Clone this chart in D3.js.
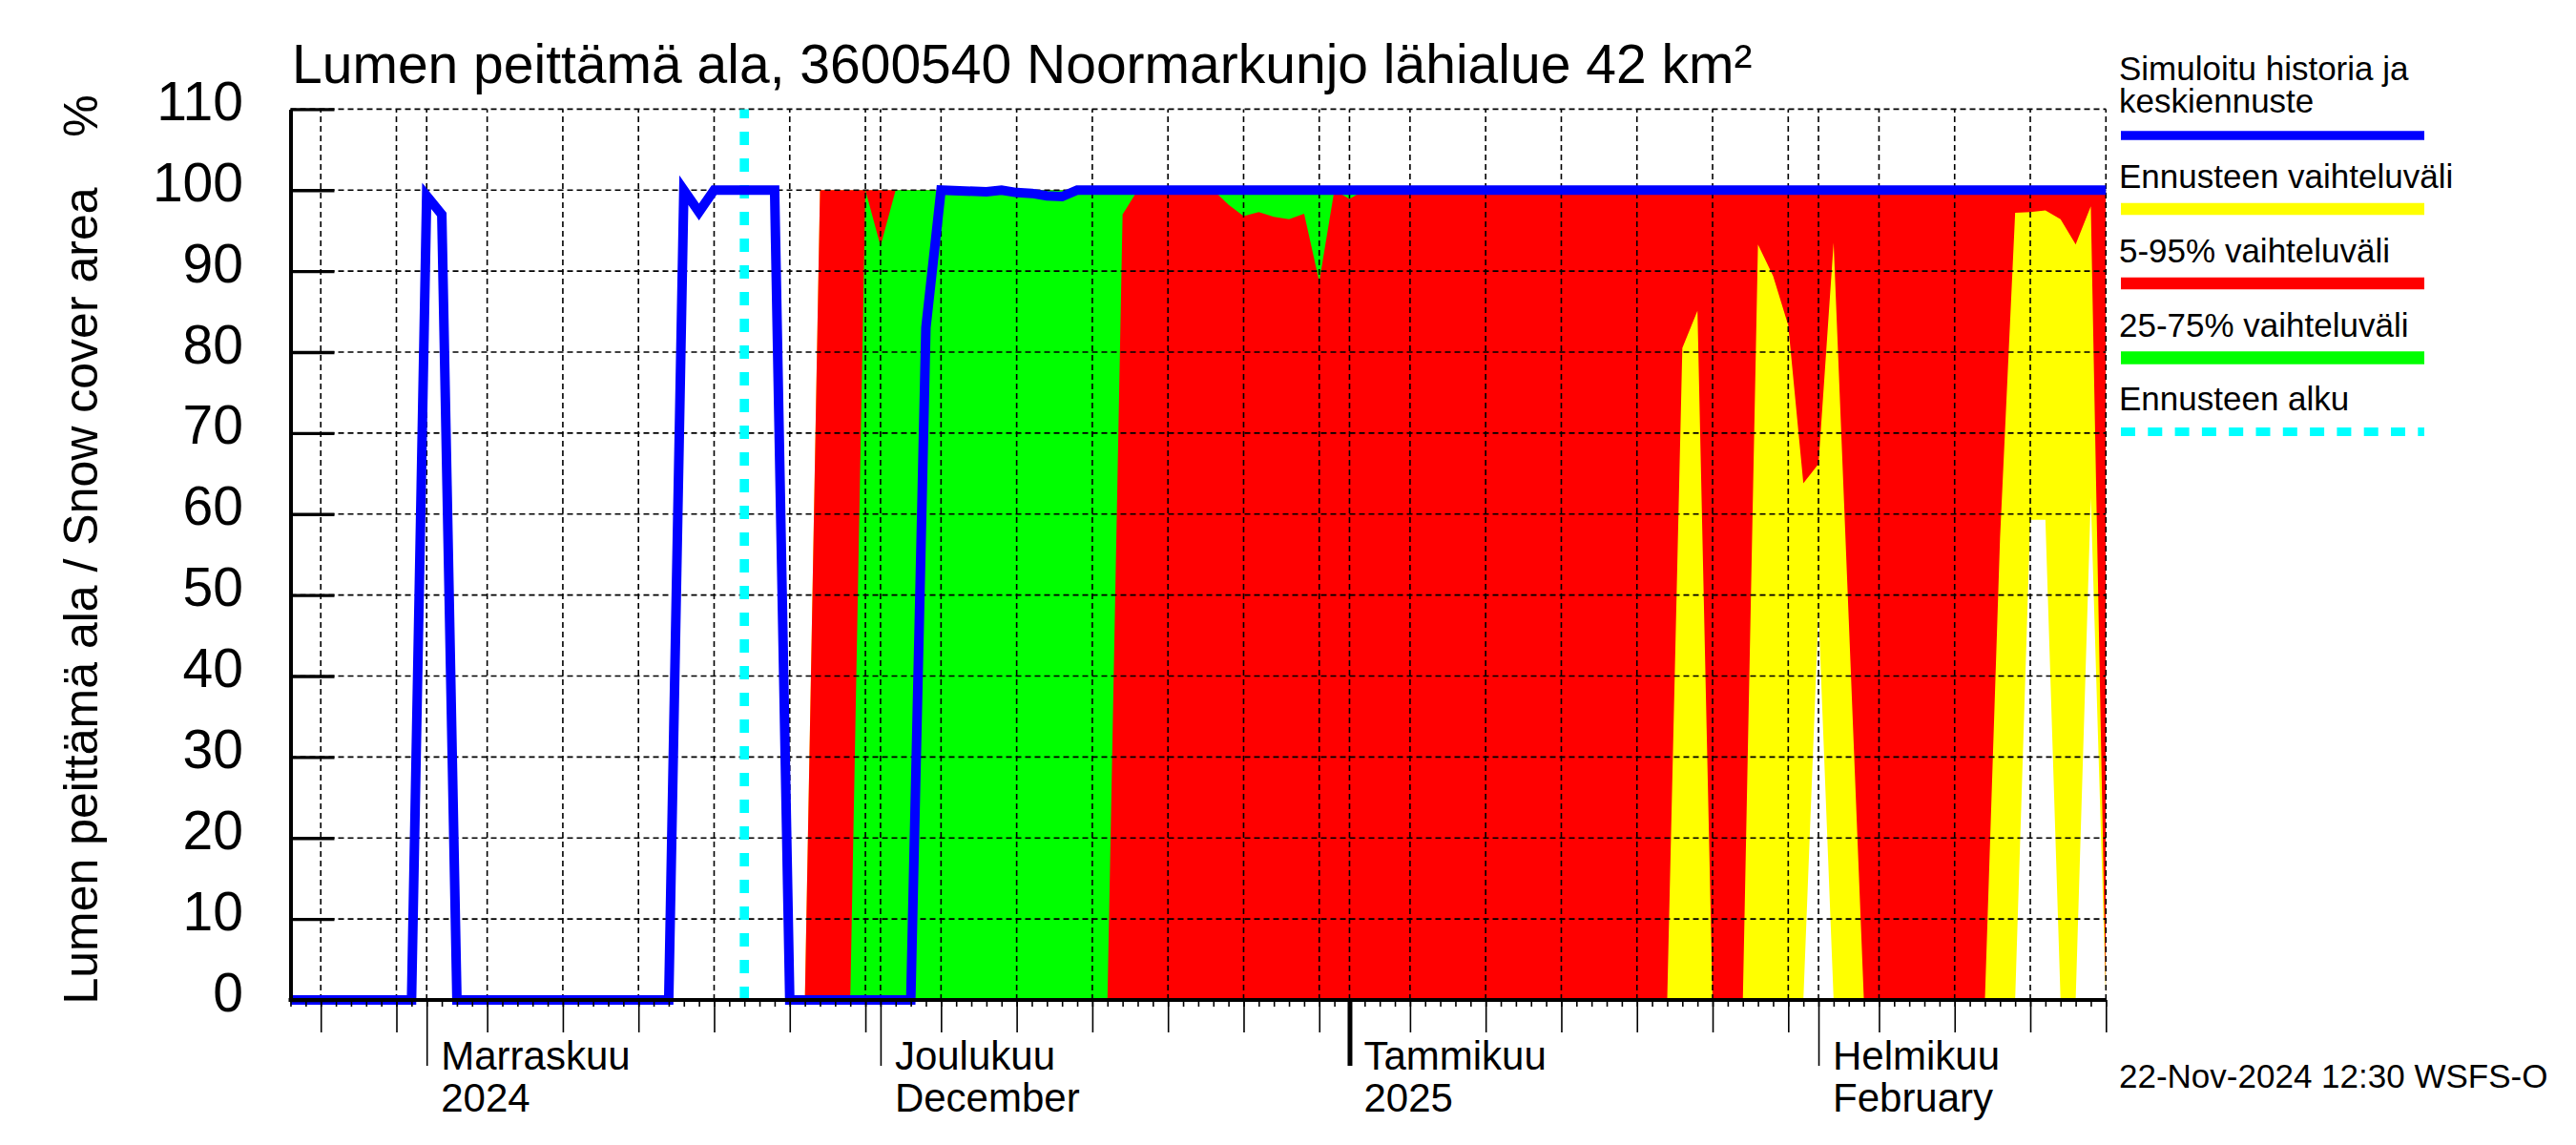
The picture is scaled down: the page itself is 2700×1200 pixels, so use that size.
<!DOCTYPE html>
<html>
<head>
<meta charset="UTF-8">
<title>Lumen peittämä ala</title>
<script src="https://cdn.jsdelivr.net/npm/d3@7"></script>
<style>
body { margin: 0; background: #fff; }
svg { display: block; font-family: 'Liberation Sans', Arial, sans-serif; }
</style>
</head>
<body>
<div id="chart"></div>
<script>
// values (date, % of area)
const forecastStart = "2024-11-22";
const yTicks = [0, 10, 20, 30, 40, 50, 60, 70, 80, 90, 100, 110];
const monthTicks = ["2024-11-01", "2024-12-01", "2025-01-01", "2025-02-01"];
const monthLine1 = ["Marraskuu", "Joulukuu", "Tammikuu", "Helmikuu"];
const monthLine2 = ["2024", "December", "2025", "February"];

// simulated history + median forecast (blue)
const median = [
    ["2024-10-23", 0], ["2024-10-31", 0], ["2024-11-01", 99.3], ["2024-11-02", 97],
    ["2024-11-03", 0], ["2024-11-17", 0], ["2024-11-18", 100], ["2024-11-19", 97.3],
    ["2024-11-20", 100], ["2024-11-24", 100], ["2024-11-25", 0], ["2024-12-03", 0],
    ["2024-12-04", 83], ["2024-12-05", 100], ["2024-12-08", 99.8], ["2024-12-09", 100],
    ["2024-12-10", 99.7], ["2024-12-11", 99.6], ["2024-12-12", 99.3], ["2024-12-13", 99.2],
    ["2024-12-14", 100], ["2025-02-20", 100]
];
// whole forecast range (yellow)
const ensMax = [["2024-11-22", 0], ["2024-11-26", 0], ["2024-11-27", 100], ["2025-02-20", 100]];
const ensMin = [
    ["2024-11-22", 0], ["2025-01-31", 0], ["2025-02-01", 48], ["2025-02-02", 0],
    ["2025-02-14", 0], ["2025-02-15", 59.3], ["2025-02-16", 59.3], ["2025-02-17", 0],
    ["2025-02-18", 0], ["2025-02-19", 62], ["2025-02-20", 0]
];
// 5-95 % (red)
const p95 = [["2024-11-22", 0], ["2024-11-26", 0], ["2024-11-27", 100], ["2025-02-20", 100]];
const p5 = [
    ["2024-11-22", 0], ["2025-01-22", 0], ["2025-01-23", 80.5], ["2025-01-24", 85.1],
    ["2025-01-25", 0], ["2025-01-27", 0], ["2025-01-28", 93.3], ["2025-01-29", 89.4],
    ["2025-01-30", 83.3], ["2025-01-31", 63.8], ["2025-02-01", 66.2], ["2025-02-02", 93.5],
    ["2025-02-03", 47], ["2025-02-04", 0], ["2025-02-12", 0], ["2025-02-13", 57],
    ["2025-02-14", 97.2], ["2025-02-15", 97.3], ["2025-02-16", 97.5], ["2025-02-17", 96.4],
    ["2025-02-18", 93.3], ["2025-02-19", 98], ["2025-02-20", 0]
];
// 25-75 % (green)
const p75 = [
    ["2024-11-22", 0], ["2024-11-29", 0], ["2024-11-30", 100], ["2024-12-01", 93.1],
    ["2024-12-02", 100], ["2025-02-20", 100]
];
const p25 = [
    ["2024-11-22", 0], ["2024-12-16", 0], ["2024-12-17", 97], ["2024-12-18", 100],
    ["2024-12-23", 100], ["2024-12-24", 98.2], ["2024-12-25", 96.8], ["2024-12-26", 97.3],
    ["2024-12-27", 96.7], ["2024-12-28", 96.4], ["2024-12-29", 97.1], ["2024-12-30", 88.7],
    ["2024-12-31", 100], ["2025-01-01", 98.9], ["2025-01-02", 100], ["2025-02-20", 100]
];

const legendLabels = [["Simuloitu historia ja", "keskiennuste"], ["Ennusteen vaihteluväli"],
    ["5-95% vaihteluväli"], ["25-75% vaihteluväli"], ["Ennusteen alku"]];
const legendColors = ["#0000ff", "#ffff00", "#ff0000", "#00ff00", "#00ffff"];

const parse = d3.utcParse("%Y-%m-%d");
const W = 2700, H = 1200;
const plotL = 304.5, plotR = 2207.3, plotT = 114.4, plotB = 1048;

const x = d3.scaleUtc()
    .domain([parse("2024-10-23"), parse("2025-02-20")])
    .range([plotL, plotR]);
const y = d3.scaleLinear().domain([0, 110]).range([plotB, plotT]);

const svg = d3.select("#chart").append("svg")
    .attr("width", W).attr("height", H)
    .attr("viewBox", `0 0 ${W} ${H}`);
svg.append("rect").attr("width", W).attr("height", H).attr("fill", "#fff");

svg.append("defs").append("clipPath").attr("id", "plot")
    .append("rect").attr("x", plotL).attr("y", plotT)
    .attr("width", plotR - plotL).attr("height", plotB - plotT);

const pt = d => [x(parse(d[0])), y(d[1])];
// polygon between an upper and a lower series
function band(upper, lower) {
    return d3.line()(upper.map(pt).concat(lower.map(pt).reverse())) + "Z";
}

const plot = svg.append("g").attr("clip-path", "url(#plot)");
plot.append("path").attr("d", band(ensMax, ensMin)).attr("fill", "#ffff00");
plot.append("path").attr("d", band(p95, p5)).attr("fill", "#ff0000");
plot.append("path").attr("d", band(p75, p25)).attr("fill", "#00ff00");

// gridlines
const allDays = d3.utcDay.range(x.domain()[0], d3.utcDay.offset(x.domain()[1], 1));
const gridDays = allDays.filter(d => [1, 5, 10, 15, 20, 25, 30].includes(d.getUTCDate()));
const fiveDays = allDays.filter(d => [5, 10, 15, 20, 25, 30].includes(d.getUTCDate()));

const grid = svg.append("g")
    .attr("stroke", "#000").attr("stroke-width", 1.6).attr("stroke-dasharray", "6,4");
grid.selectAll(".hgrid").data(yTicks.filter(v => v > 0)).join("line")
    .attr("class", "hgrid")
    .attr("x1", plotL).attr("x2", plotR)
    .attr("y1", d => y(d)).attr("y2", d => y(d));
grid.selectAll(".vgrid").data(gridDays).join("line")
    .attr("class", "vgrid")
    .attr("x1", d => x(d)).attr("x2", d => x(d))
    .attr("y1", y(0)).attr("y2", y(110));

// forecast start
svg.append("line")
    .attr("x1", x(parse(forecastStart))).attr("x2", x(parse(forecastStart)))
    .attr("y1", y(0)).attr("y2", y(110))
    .attr("stroke", "#00ffff").attr("stroke-width", 9.7).attr("stroke-dasharray", "14,14");

// median line
svg.append("path")
    .attr("d", d3.line().x(d => x(parse(d[0]))).y(d => y(d[1]))(median))
    .attr("fill", "none").attr("stroke", "#0000ff").attr("stroke-width", 10);

// x axis: day ticks, 5-day ticks, month ticks
function styleAxis(g, w) {
    g.selectAll(".tick line").attr("stroke", "#000").attr("stroke-width", w);
    g.select(".domain").remove();
}
svg.append("g").attr("transform", `translate(0,${plotB})`)
    .call(d3.axisBottom(x).tickValues(allDays).tickSize(7).tickFormat(""))
    .call(g => styleAxis(g, 1.6));
svg.append("g").attr("transform", `translate(0,${plotB})`)
    .call(d3.axisBottom(x).tickValues(fiveDays).tickSize(34).tickFormat(""))
    .call(g => styleAxis(g, 1.6));
svg.append("g").attr("transform", `translate(0,${plotB})`)
    .call(d3.axisBottom(x).tickValues(monthTicks.map(parse)).tickSize(69).tickFormat(""))
    .call(g => styleAxis(g, 1.6))
    .selectAll(".tick line").filter(d => d.getUTCMonth() === 0).attr("stroke-width", 5);
svg.append("line")
    .attr("x1", plotL - 2).attr("x2", plotR).attr("y1", plotB).attr("y2", plotB)
    .attr("stroke", "#000").attr("stroke-width", 4);

const months = svg.append("g").attr("font-size", 42).attr("fill", "#000");
monthTicks.forEach((m, i) => {
    const mx = x(parse(m)) + 15;
    months.append("text").attr("x", mx).attr("y", 1120.7).text(monthLine1[i]);
    months.append("text").attr("x", mx).attr("y", 1165).text(monthLine2[i]);
});

// y axis with inward ticks
svg.append("g").attr("transform", `translate(${plotL},0)`)
    .call(d3.axisRight(y).tickValues(yTicks).tickSize(46).tickSizeOuter(0).tickFormat(""))
    .call(g => {
        g.selectAll(".tick line").attr("stroke", "#000").attr("stroke-width", 3.3);
        g.select(".domain").attr("stroke", "#000").attr("stroke-width", 4);
    });
svg.append("g").attr("font-size", 57).attr("text-anchor", "end")
    .selectAll("text").data(yTicks).join("text")
    .attr("x", 255).attr("y", d => y(d) + 11.5).text(d => d);

// titles
svg.append("text").attr("x", 306).attr("y", 87.3).attr("font-size", 57)
    .text("Lumen peittämä ala, 3600540 Noormarkunjo lähialue 42 km²");
svg.append("text").attr("transform", "translate(102,624.5) rotate(-90)")
    .attr("text-anchor", "middle").attr("font-size", 50)
    .text("Lumen peittämä ala / Snow cover area");
svg.append("text").attr("transform", "translate(102,121.5) rotate(-90)")
    .attr("text-anchor", "middle").attr("font-size", 50).text("%");

// legend
const legend = svg.append("g").attr("font-size", 35);
const legendText = [[84, 118.3], [196.7], [275], [352.7], [430]];
const legendBar = [142, 219, 297, 375, 452.5];
const legendWidth = [9.3, 12.3, 12.3, 13.6, 9];
legendLabels.forEach((lines, i) => {
    lines.forEach((t, j) => legend.append("text").attr("x", 2221).attr("y", legendText[i][j]).text(t));
    legend.append("line")
        .attr("x1", 2223).attr("x2", 2541)
        .attr("y1", legendBar[i]).attr("y2", legendBar[i])
        .attr("stroke", legendColors[i]).attr("stroke-width", legendWidth[i])
        .attr("stroke-dasharray", i === 4 ? "15,13.3" : null);
});

svg.append("text").attr("x", 2221).attr("y", 1140).attr("font-size", 35)
    .text("22-Nov-2024 12:30 WSFS-O");
</script>
</body>
</html>
